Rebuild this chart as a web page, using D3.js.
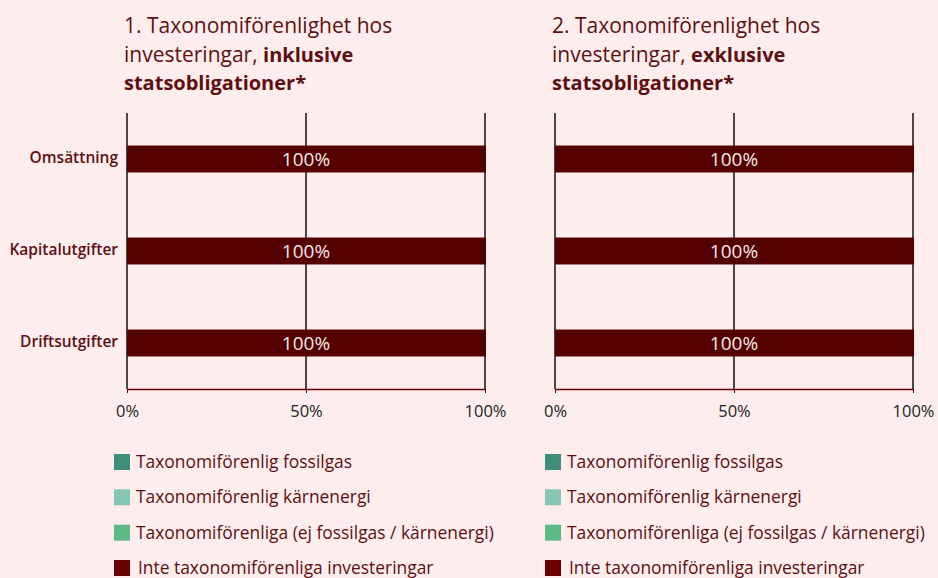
<!DOCTYPE html>
<html>
<head>
<meta charset="utf-8">
<script src="https://cdn.jsdelivr.net/npm/d3@7"></script>
<style>
  body { margin: 0; background: #fdeeed; }
  svg { display: block; font-family: "Open Sans", sans-serif; }
</style>
</head>
<body>
<div id="chart"></div>
<script>
// categories and values (share of investments, %)
const categories = ["Omsättning", "Kapitalutgifter", "Driftsutgifter"];
const valuesInkl = [100, 100, 100];
const valuesExkl = [100, 100, 100];
const tickValues = [0, 50, 100];
const titles = [
  ["1. Taxonomiförenlighet hos", "investeringar, ", "inklusive", "statsobligationer*"],
  ["2. Taxonomiförenlighet hos", "investeringar, ", "exklusive", "statsobligationer*"]
];
const legendLabels = [
  "Taxonomiförenlig fossilgas",
  "Taxonomiförenlig kärnenergi",
  "Taxonomiförenliga (ej fossilgas / kärnenergi)",
  "Inte taxonomiförenliga investeringar"
];
const legendColors = ["#3f8c7a", "#86c4b4", "#5bbb85", "#6a0000"];

const W = 938, H = 578;
const svg = d3.select("#chart").append("svg")
  .attr("width", W).attr("height", H);

svg.append("rect").attr("width", W).attr("height", H).attr("fill", "#fdeeed");

const textRed = "#5e0f12";
const barColor = "#540000";

function drawPanel(x0, values, title) {
  const g = svg.append("g").attr("transform", `translate(${x0},0)`);
  const width = 358;
  const top = 113, bottom = 389;

  const x = d3.scaleLinear().domain([0, 100]).range([0, width]);
  const y = d3.scaleBand().domain(categories).range([top, bottom]).paddingInner(0.707).paddingOuter(0.3535);

  // title
  const t = g.append("text").attr("fill", textRed).attr("font-size", 21);
  t.append("tspan").attr("x", -3).attr("y", 33).text(title[0]);
  t.append("tspan").attr("x", -3).attr("y", 62).text(title[1]);
  t.append("tspan").attr("font-weight", "bold").attr("font-size", 20).text(title[2]);
  t.append("tspan").attr("x", -3).attr("y", 90).attr("font-weight", "bold").attr("font-size", 20).text(title[3]);

  // gridlines
  g.selectAll(".grid").data(tickValues).enter().append("line")
    .attr("x1", d => x(d)).attr("x2", d => x(d))
    .attr("y1", top).attr("y2", bottom)
    .attr("stroke", "#111").attr("stroke-width", 1.5);

  // bars
  g.selectAll(".bar").data(values).enter().append("rect")
    .attr("x", x(0))
    .attr("y", (d, i) => y(categories[i]))
    .attr("width", d => x(d) + 1)
    .attr("height", y.bandwidth())
    .attr("fill", barColor);

  g.selectAll(".lbl").data(values).enter().append("text")
    .attr("x", d => x(d / 2))
    .attr("y", (d, i) => y(categories[i]) + y.bandwidth() / 2)
    .attr("dy", "0.36em")
    .attr("text-anchor", "middle")
    .attr("fill", "#f6e8e8")
    .attr("font-size", 19)
    .text(d => d + "%");

  // x axis
  const ax = g.append("g").attr("transform", `translate(0,${bottom})`)
    .call(d3.axisBottom(x).tickValues(tickValues).tickFormat(d => d + "%").tickSize(4).tickSizeOuter(0));
  ax.select(".domain").attr("stroke", "#6a0000").attr("stroke-width", 1.5);
  ax.selectAll(".tick line").attr("stroke", "#6a0000");
  ax.selectAll(".tick text").attr("fill", "#222").attr("font-size", 16.5)
    .attr("font-family", "Open Sans, sans-serif").attr("y", 16);
  return { g, y };
}

const p1 = drawPanel(127, valuesInkl, titles[0]);
drawPanel(555, valuesExkl, titles[1]);

// category labels (left panel only)
p1.g.selectAll(".cat").data(categories).enter().append("text")
  .attr("x", -9)
  .attr("y", d => p1.y(d) + p1.y.bandwidth() / 2 - 2)
  .attr("dy", "0.36em")
  .attr("text-anchor", "end")
  .attr("fill", textRed)
  .attr("font-size", 15.5)
  .attr("font-weight", 600)
  .text(d => d);

// legends
const legendY = d3.scalePoint().domain(legendLabels).range([462, 568]);
[114, 545].forEach(lx => {
  const lg = svg.append("g").attr("transform", `translate(${lx},0)`);
  const items = lg.selectAll(".item").data(legendLabels).enter().append("g")
    .attr("transform", d => `translate(0,${legendY(d)})`);
  items.append("rect").attr("x", 0).attr("y", -8).attr("width", 16).attr("height", 16)
    .attr("fill", (d, i) => legendColors[i]);
  items.append("text").attr("x", (d, i) => i === 3 ? 24 : 22).attr("y", 0).attr("dy", "0.35em")
    .attr("fill", textRed).attr("font-size", 17.4).text(d => d);
});
</script>
</body>
</html>
